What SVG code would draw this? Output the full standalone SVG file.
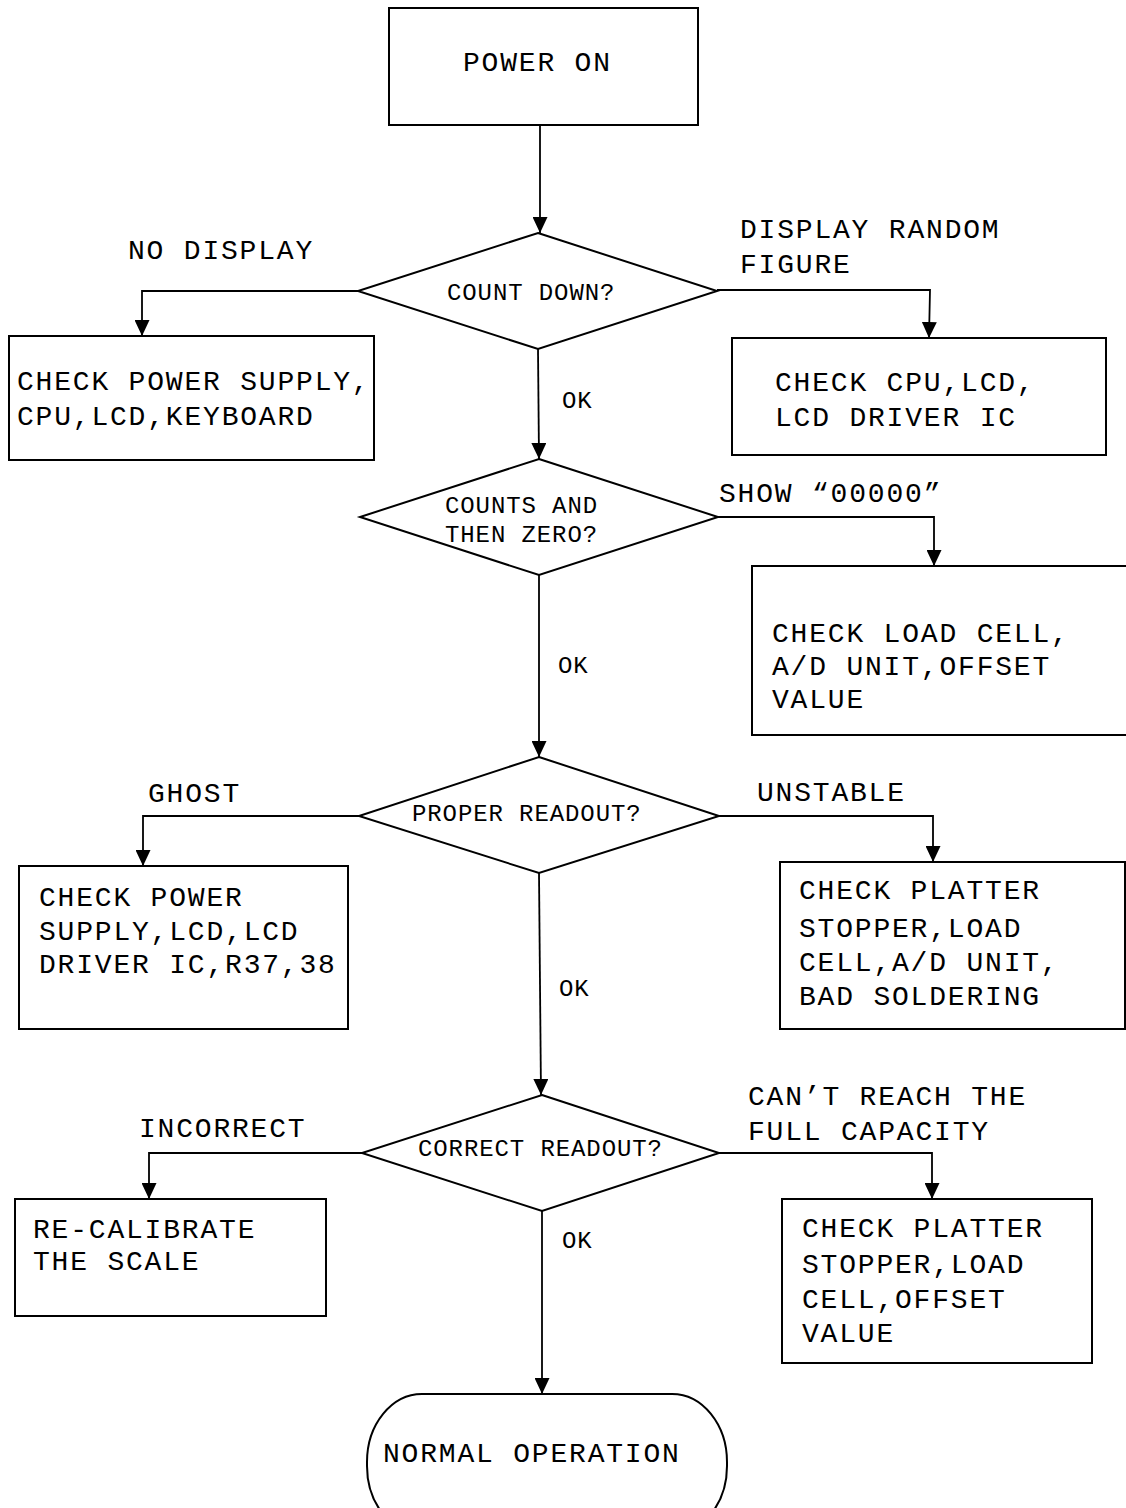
<svg xmlns="http://www.w3.org/2000/svg" width="1126" height="1508" viewBox="0 0 1126 1508">
<style>
.box{fill:none;stroke:#000;stroke-width:2}
.ln{fill:none;stroke:#000;stroke-width:1.8}
.t{font-family:"Liberation Mono","Courier New",monospace;font-size:28px;letter-spacing:1.8px;fill:#000}
.s{font-family:"Liberation Mono","Courier New",monospace;font-size:24px;letter-spacing:0.9px;fill:#000}
</style>
<defs>
<marker id="ah" markerUnits="userSpaceOnUse" markerWidth="16" markerHeight="15" refX="16" refY="7.5" orient="auto">
<path d="M0,0 L16,7.5 L0,15 z" fill="#000"/>
</marker>
</defs>
<rect width="1126" height="1508" fill="#fff"/>
<g id="connectors">
<path class="ln" d="M540,125 L540,233" marker-end="url(#ah)"/>
<path class="ln" d="M358,291 L142,291 L142,336" marker-end="url(#ah)"/>
<path class="ln" d="M717,290 L930,290 L929,338" marker-end="url(#ah)"/>
<path class="ln" d="M538,349 L539,459" marker-end="url(#ah)"/>
<path class="ln" d="M718,517 L934,517 L934,566" marker-end="url(#ah)"/>
<path class="ln" d="M539,575 L539,757" marker-end="url(#ah)"/>
<path class="ln" d="M359,816 L143,816 L143,866" marker-end="url(#ah)"/>
<path class="ln" d="M719,816 L933,816 L933,862" marker-end="url(#ah)"/>
<path class="ln" d="M539,873 L541,1095" marker-end="url(#ah)"/>
<path class="ln" d="M362,1153 L149,1153 L149,1199" marker-end="url(#ah)"/>
<path class="ln" d="M719,1153 L932,1153 L932,1199" marker-end="url(#ah)"/>
<path class="ln" d="M542,1211 L542,1394" marker-end="url(#ah)"/>
<text class="t" x="128" y="259">NO DISPLAY</text>
<text class="t" x="740" y="238">DISPLAY RANDOM</text>
<text class="t" x="740" y="273">FIGURE</text>
<text class="s" x="562" y="408">OK</text>
<text class="t" x="719" y="502">SHOW “00000”</text>
<text class="s" x="558" y="673">OK</text>
<text class="t" x="148" y="802">GHOST</text>
<text class="t" x="757" y="801">UNSTABLE</text>
<text class="s" x="559" y="996">OK</text>
<text class="t" x="139" y="1137">INCORRECT</text>
<text class="t" x="748" y="1105">CAN’T REACH THE</text>
<text class="t" x="748" y="1140">FULL CAPACITY</text>
<text class="s" x="562" y="1248">OK</text>
</g>
<g id="power-on">
<rect class="box" x="389" y="8" width="309" height="117"/>
<text class="t" x="463" y="71">POWER ON</text>
</g>
<g id="count-down">
<polygon class="box" points="538,233 717,291 538,349 358,291"/>
<text class="s" x="447" y="300">COUNT DOWN?</text>
</g>
<g id="check-power-supply">
<rect class="box" x="9" y="336" width="365" height="124"/>
<text class="t" x="17" y="390">CHECK POWER SUPPLY,</text>
<text class="t" x="17" y="425">CPU,LCD,KEYBOARD</text>
</g>
<g id="check-cpu">
<rect class="box" x="732" y="338" width="374" height="117"/>
<text class="t" x="775" y="391">CHECK CPU,LCD,</text>
<text class="t" x="775" y="426">LCD DRIVER IC</text>
</g>
<g id="counts-zero">
<polygon class="box" points="539,459 718,517 539,575 360,517"/>
<text class="s" x="445" y="513">COUNTS AND</text>
<text class="s" x="445" y="542">THEN ZERO?</text>
</g>
<g id="check-load-cell">
<rect class="box" x="752" y="566" width="380" height="169"/>
<text class="t" x="772" y="642">CHECK LOAD CELL,</text>
<text class="t" x="772" y="675">A/D UNIT,OFFSET</text>
<text class="t" x="772" y="708">VALUE</text>
</g>
<g id="proper-readout">
<polygon class="box" points="539,757 719,816 539,873 359,816"/>
<text class="s" x="412" y="821">PROPER READOUT?</text>
</g>
<g id="check-ghost">
<rect class="box" x="19" y="866" width="329" height="163"/>
<text class="t" x="39" y="906">CHECK POWER</text>
<text class="t" x="39" y="940">SUPPLY,LCD,LCD</text>
<text class="t" x="39" y="973">DRIVER IC,R37,38</text>
</g>
<g id="check-unstable">
<rect class="box" x="780" y="862" width="345" height="167"/>
<text class="t" x="799" y="899">CHECK PLATTER</text>
<text class="t" x="799" y="937">STOPPER,LOAD</text>
<text class="t" x="799" y="971">CELL,A/D UNIT,</text>
<text class="t" x="799" y="1005">BAD SOLDERING</text>
</g>
<g id="correct-readout">
<polygon class="box" points="542,1095 719,1153 542,1211 362,1153"/>
<text class="s" x="418" y="1156">CORRECT READOUT?</text>
</g>
<g id="recalibrate">
<rect class="box" x="15" y="1199" width="311" height="117"/>
<text class="t" x="33" y="1238">RE-CALIBRATE</text>
<text class="t" x="33" y="1270">THE SCALE</text>
</g>
<g id="check-capacity">
<rect class="box" x="782" y="1199" width="310" height="164"/>
<text class="t" x="802" y="1237">CHECK PLATTER</text>
<text class="t" x="802" y="1273">STOPPER,LOAD</text>
<text class="t" x="802" y="1308">CELL,OFFSET</text>
<text class="t" x="802" y="1342">VALUE</text>
</g>
<g id="normal-operation">
<rect class="box" x="367" y="1394" width="360" height="140" rx="55" ry="68"/>
<text class="t" x="383" y="1462">NORMAL OPERATION</text>
</g>
</svg>
